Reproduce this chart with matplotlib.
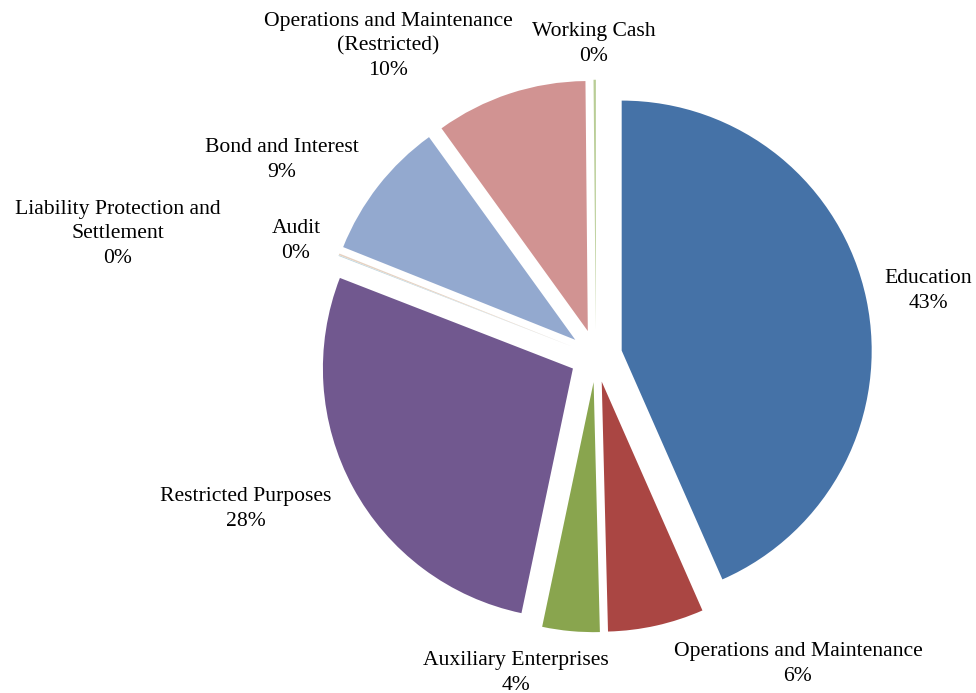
import matplotlib
matplotlib.use("Agg")
import matplotlib.pyplot as plt

# Fund shares (percent), clockwise from 12 o'clock
categories = [
    "Education",
    "Operations and Maintenance",
    "Auxiliary Enterprises",
    "Restricted Purposes",
    "Liability Protection and\nSettlement",
    "Audit",
    "Bond and Interest",
    "Operations and Maintenance\n(Restricted)",
    "Working Cash",
]
shares = [43.4, 6.2, 3.7, 27.6, 0.05, 0.1, 9.0, 9.8, 0.15]
colors = ["#4572A7", "#AA4643", "#89A54E", "#71588F", "#B5D3DE",
          "#E6D2C2", "#93A9CF", "#D19392", "#B9CD96"]

# label anchor points (pixels from top-left), converted to figure fractions
label_px = [
    (928, 291),
    (798, 664),
    (516, 673),
    (246, 509),
    (118, 234),
    (296, 241),
    (282, 160),
    (388, 46),
    (594, 44),
]
label_pos = [(x / 976, 1 - y / 693) for x, y in label_px]

plt.rcParams["font.family"] = ["Liberation Serif", "DejaVu Serif"]

fig = plt.figure(figsize=(9.76, 6.93), dpi=100)
ax = fig.add_axes([0, 0, 1, 1])

ax.pie(shares, colors=colors, startangle=90, counterclock=False,
       explode=[0.105] * len(shares), radius=1.0,
       wedgeprops=dict(linewidth=0, edgecolor="none"))

# one data unit = 250 px, pie centre at pixel (596, 356)
radius = 250.0
cx, cy = 596.0, 356.0
ax.set_xlim(-cx / radius, (976 - cx) / radius)
ax.set_ylim(-(693 - cy) / radius, cy / radius)
ax.set_aspect("equal")
ax.axis("off")

for name, val, (lx, ly) in zip(categories, shares, label_pos):
    fig.text(lx, ly, f"{name}\n{round(val):.0f}%", transform=fig.transFigure,
             ha="center", va="center", fontsize=15.6, linespacing=1.36,
             color="black")

fig.savefig("out.png", dpi=100)
